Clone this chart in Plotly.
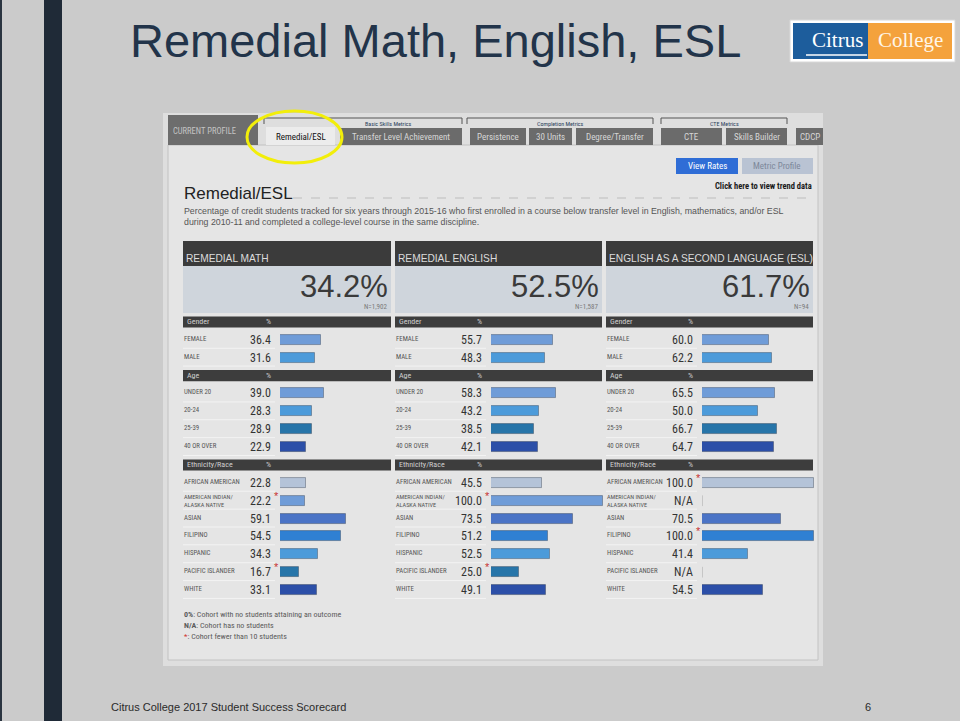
import plotly.graph_objects as go

# ---------------- data ----------------
panel_titles = ["REMEDIAL MATH", "REMEDIAL ENGLISH", "ENGLISH AS A SECOND LANGUAGE (ESL)"]
overall_rate = [34.2, 52.5, 61.7]
cohort_n = ["1,902", "1,587", "94"]

gender_cats = ["FEMALE", "MALE"]
age_cats = ["UNDER 20", "20-24", "25-39", "40 OR OVER"]
eth_cats = ["AFRICAN AMERICAN", "AMERICAN INDIAN", "ASIAN", "FILIPINO",
            "HISPANIC", "PACIFIC ISLANDER", "WHITE"]
eth_labels = ["AFRICAN AMERICAN", "AMERICAN INDIAN/<br>ALASKA NATIVE", "ASIAN", "FILIPINO",
              "HISPANIC", "PACIFIC ISLANDER", "WHITE"]

math_gender = [36.4, 31.6]
math_age = [39.0, 28.3, 28.9, 22.9]
math_eth = [22.8, 22.2, 59.1, 54.5, 34.3, 16.7, 33.1]
math_small = ["AMERICAN INDIAN", "PACIFIC ISLANDER"]

english_gender = [55.7, 48.3]
english_age = [58.3, 43.2, 38.5, 42.1]
english_eth = [45.5, 100.0, 73.5, 51.2, 52.5, 25.0, 49.1]
english_small = ["AMERICAN INDIAN", "PACIFIC ISLANDER"]

esl_gender = [60.0, 62.2]
esl_age = [65.5, 50.0, 66.7, 64.7]
esl_eth = [100.0, None, 70.5, 100.0, 41.4, None, 54.5]
esl_small = ["AFRICAN AMERICAN", "FILIPINO"]

tabs = ["Remedial/ESL", "Transfer Level Achievement", "Persistence", "30 Units",
        "Degree/Transfer", "CTE", "Skills Builder", "CDCP"]

# ---------------- styles ----------------
W, H = 960, 721
SANS = "Liberation Sans, Arial, sans-serif"
NARROW = "Liberation Sans Narrow, Arial Narrow, Roboto Condensed, DejaVu Sans Condensed, Liberation Sans, sans-serif"
SERIF = "Liberation Serif, DejaVu Serif, serif"

cat_colors = {
    "FEMALE": "#6f9cd8", "MALE": "#4c9bda",
    "UNDER 20": "#6f9cd8", "20-24": "#4c9bda", "25-39": "#2775a9", "40 OR OVER": "#2c4fa8",
    "AFRICAN AMERICAN": "#b4c3d8", "AMERICAN INDIAN": "#6f9cd8", "ASIAN": "#4b74c6",
    "FILIPINO": "#2f80d3", "HISPANIC": "#4c9bda", "PACIFIC ISLANDER": "#2775a9", "WHITE": "#2c4fa8",
}

slots = ["Gender"] + gender_cats + ["Age"] + age_cats + ["Ethnicity/Race"] + eth_cats
SLOT0 = 322.0
STEP = 17.87
y_top_px = SLOT0 - STEP / 2
y_bot_px = SLOT0 + (len(slots) - 0.5) * STEP

panel_left = [183, 395, 606]
panel_right = [391, 602, 813]
bar_start = [280, 491, 702]
BAR_LEN = 112
value_right = [272, 483, 694]
pct_x = [268, 479, 690]


def px(x):
    return x / W


def py(y):
    return 1 - y / H


shapes = []
annotations = []


def rect(x0, y0, x1, y1, fill, line=None, lw=0, layer="below"):
    shapes.append(dict(type="rect", xref="paper", yref="paper",
                       x0=px(x0), x1=px(x1), y0=py(y1), y1=py(y0),
                       fillcolor=fill, line=dict(width=lw, color=line or fill), layer=layer))


def hline(x0, x1, y, color, width=1, dash="solid"):
    shapes.append(dict(type="line", xref="paper", yref="paper",
                       x0=px(x0), x1=px(x1), y0=py(y), y1=py(y),
                       line=dict(color=color, width=width, dash=dash), layer="below"))


def vline(x, y0, y1, color, width=1):
    shapes.append(dict(type="line", xref="paper", yref="paper",
                       x0=px(x), x1=px(x), y0=py(y0), y1=py(y1),
                       line=dict(color=color, width=width), layer="below"))


def text(x, y, s, size, color, anchor="left", family=SANS, yanchor="middle"):
    annotations.append(dict(xref="paper", yref="paper", x=px(x), y=py(y), text=s,
                            showarrow=False, xanchor=anchor, yanchor=yanchor, align=anchor,
                            borderpad=0, font=dict(size=size, color=color, family=family)))


# ---------------- slide background ----------------
rect(0, 0, 960, 721, "#cbcbcb")
rect(0, 0, 2, 721, "#2a3440")
rect(44, 0, 62, 721, "#1f2a37")

# title
text(129, 41, "Remedial Math, English, ESL", 47, "#22344a", family=SANS)

# logo
rect(790, 20, 955, 62, "#ffffff", "#d8d8d8", 1)
rect(793, 23, 868, 59, "#1d5d9c")
rect(868, 23, 952, 59, "#f4a23c")
text(837, 40, "Citrus", 21, "#ffffff", anchor="center", family=SERIF)
hline(806, 867, 55, "#ffffff", 1.5)
text(910, 40, "College", 21, "#fff6e8", anchor="center", family=SERIF)

# footer
text(110, 707, "Citrus College 2017 Student Success Scorecard", 11, "#2a2a2a")
text(868, 707, "6", 11, "#2a2a2a", anchor="center")

# ---------------- screenshot frame ----------------
rect(163, 113, 823, 666, "#dedede")
rect(168, 145, 818, 660, "#e5e5e5", "#c2c2c2", 1)

# current profile
rect(168, 115, 258, 145, "#6d6d6d")
text(172, 131, "CURRENT PROFILE", 8.5, "#c4c4c4", family=NARROW)

# tab group brackets
for (x0, x1, lab) in [(264, 462, "Basic Skills Metrics"), (467, 653, "Completion Metrics"),
                      (661, 787, "CTE Metrics")]:
    hline(x0, x1, 118, "#555555", 1)
    vline(x0, 118, 124, "#555555", 1)
    vline(x1, 118, 124, "#555555", 1)
    text((x0 + x1) / 2 + (25 if x0 == 264 else 0), 123, lab, 6, "#2b3f5c", anchor="center", family=NARROW)

tab_pos = [(266, 335), (340, 462), (470, 526), (529, 572), (576, 653), (661, 722), (726, 787), (796, 823)]
for i, (t, (x0, x1)) in enumerate(zip(tabs, tab_pos)):
    if i == 0:
        rect(x0, 127, x1, 145, "#ececec")
        text((x0 + x1) / 2, 137, t, 9, "#111111", anchor="center", family=NARROW)
    else:
        rect(x0, 128, x1, 145, "#6b6b6b")
        if x1 >= 823:
            text(x0 + 3, 137, t, 9, "#d6d6d6", anchor="left", family=NARROW)
        else:
            text((x0 + x1) / 2, 137, t, 9, "#d6d6d6", anchor="center", family=NARROW)

# yellow highlight ellipse
shapes.append(dict(type="circle", xref="paper", yref="paper",
                   x0=px(247), x1=px(342), y0=py(163), y1=py(111),
                   line=dict(color="#f2ee0a", width=3), layer="above"))

# buttons
rect(676, 158, 738, 174, "#2f6dd6")
text(707, 166, "View Rates", 9, "#ffffff", anchor="center", family=NARROW)
rect(742, 158, 813, 174, "#b9c3d3")
text(777, 166, "Metric Profile", 9, "#7d889a", anchor="center", family=NARROW)
text(813, 186, "<b>Click here to view trend data</b>", 8.5, "#1a1a1a", anchor="right", family=NARROW)

# heading & description
text(183, 193, "Remedial/ESL", 17, "#222222")
hline(293, 813, 198, "#bdbdbd", 1, "dash")
text(183, 217,
     "Percentage of credit students tracked for six years through 2015-16 who first enrolled in a course below transfer level in English, mathematics, and/or ESL"
     "<br>during 2010-11 and completed a college-level course in the same discipline.",
     8.8, "#555555", yanchor="middle", family=SANS)

# panel headers
for p in range(3):
    L, R = panel_left[p], panel_right[p]
    rect(L, 241, R, 266, "#3b3b3b")
    text(L + 2, 258, panel_titles[p], 10.2, "#dcdcdc", family=SANS)
    rect(L, 266, R, 313, "#cfd5dc")
    text(R - 2, 286, f"{overall_rate[p]:.1f}%", 31, "#3a3a3a", anchor="right", family=SANS)
    text(R - 3, 307, f"N={cohort_n[p]}", 7, "#7a7a7a", anchor="right", family=NARROW)

# footnotes
text(183, 614, "<b>0%</b>: Cohort with no students attaining an outcome", 8, "#5a5a5a", family=NARROW)
text(183, 625, "<b>N/A</b>: Cohort has no students", 8, "#5a5a5a", family=NARROW)
text(183, 636, "<span style='color:#d03030'>*</span>: Cohort fewer than 10 students", 8, "#5a5a5a", family=NARROW)

# ---------------- rows ----------------
panel_values = [
    (math_gender + math_age + math_eth, math_small),
    (english_gender + english_age + english_eth, english_small),
    (esl_gender + esl_age + esl_eth, esl_small),
]
row_cats = gender_cats + age_cats + eth_cats
row_labels = gender_cats + age_cats + eth_labels

fig = go.Figure()
xaxes = ["x", "x2", "x3"]
for p in range(3):
    vals, small = panel_values[p]
    L, R = panel_left[p], panel_right[p]
    # row headers
    for hdr in ["Gender", "Age", "Ethnicity/Race"]:
        i = slots.index(hdr)
        shapes.append(dict(type="rect", xref="paper", yref="y", x0=px(L), x1=px(R),
                           y0=i - 0.31, y1=i + 0.31, fillcolor="#3d3d3d",
                           line=dict(width=0), layer="below"))
        annotations.append(dict(xref="paper", yref="y", x=px(L + 3), y=hdr, text=hdr,
                                showarrow=False, xanchor="left", borderpad=0,
                                font=dict(size=8, color="#cfcfcf", family=NARROW)))
        annotations.append(dict(xref="paper", yref="y", x=px(pct_x[p]), y=hdr, text="%",
                                showarrow=False, xanchor="center", borderpad=0,
                                font=dict(size=8, color="#cfcfcf", family=NARROW)))
    for cat, lab, v in zip(row_cats, row_labels, vals):
        i = slots.index(cat)
        # faint separator under label
        shapes.append(dict(type="line", xref="paper", yref="y",
                           x0=px(L), x1=px(value_right[p] + 3), y0=i + 0.47, y1=i + 0.47,
                           line=dict(color="#f3f3f3", width=1), layer="below"))
        two = "<br>" in lab
        annotations.append(dict(xref="paper", yref="y", x=px(L), y=cat, text=lab,
                                showarrow=False, xanchor="left", align="left", borderpad=0,
                                yshift=1 if not two else 0,
                                font=dict(size=6.2 if two else 6.8, color="#555555", family=NARROW)))
        vt = "N/A" if v is None else f"{v:.1f}"
        annotations.append(dict(xref="paper", yref="y", x=px(value_right[p]), y=cat, text=vt,
                                showarrow=False, xanchor="right", borderpad=0,
                                font=dict(size=12, color="#333333", family=NARROW)))
        if cat in small:
            annotations.append(dict(xref="paper", yref="y", x=px(value_right[p] + 1), y=cat,
                                    text="*", showarrow=False, xanchor="left", borderpad=0,
                                    yshift=5, font=dict(size=11, color="#c83232", family=SANS)))
        if v is None:
            shapes.append(dict(type="line", xref=xaxes[p], yref="y", x0=0, x1=0,
                               y0=i - 0.3, y1=i + 0.3, line=dict(color="#a8a8a8", width=1)))
    fig.add_trace(go.Bar(
        x=vals, y=row_cats, orientation="h", xaxis=xaxes[p], yaxis="y",
        width=0.56,
        marker=dict(color=[cat_colors[c] for c in row_cats],
                    line=dict(color="rgba(30,40,60,0.35)", width=1)),
        hoverinfo="x+y", showlegend=False,
    ))

axis_common = dict(range=[0, 100], visible=False, fixedrange=True, anchor="y")
fig.update_layout(
    width=W, height=H,
    margin=dict(l=0, r=0, t=0, b=0),
    paper_bgcolor="#cbcbcb",
    plot_bgcolor="rgba(0,0,0,0)",
    showlegend=False,
    bargap=0,
    xaxis=dict(domain=[px(bar_start[0]), px(bar_start[0] + BAR_LEN)], **axis_common),
    xaxis2=dict(domain=[px(bar_start[1]), px(bar_start[1] + BAR_LEN)], **axis_common),
    xaxis3=dict(domain=[px(bar_start[2]), px(bar_start[2] + BAR_LEN)], **axis_common),
    yaxis=dict(domain=[py(y_bot_px), py(y_top_px)], type="category",
               categoryorder="array", categoryarray=slots,
               range=[len(slots) - 0.5, -0.5], visible=False, fixedrange=True, anchor="x"),
    shapes=shapes,
    annotations=annotations,
)

fig.write_html("out.html", config={"displayModeBar": False},
               post_script="document.body.style.margin='0';document.body.style.overflow='hidden';")
